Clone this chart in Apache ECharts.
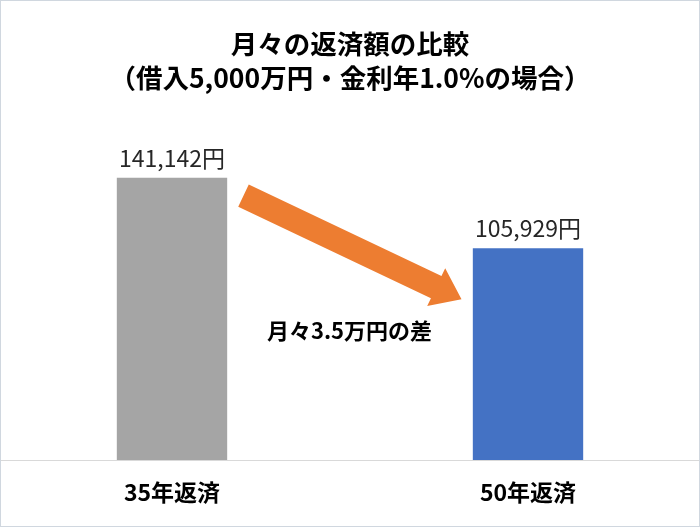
<!DOCTYPE html>
<html><head><meta charset="utf-8">
<script src="https://cdn.jsdelivr.net/npm/echarts@6/dist/echarts.min.js"></script>
<style>
html,body{margin:0;padding:0;background:#fff;overflow:hidden;width:700px;height:527px}
#c{position:absolute;left:-6px;top:0;width:712px;height:527px}
#frame{position:absolute;left:0;top:0;width:698px;height:525px;border:1px solid #D0D7DF;pointer-events:none}
</style>
</head><body><div id="c"></div><div id="frame"></div>
<script>
const categories = ['35年返済', '50年返済'];
const values = [141142, 105929];
const barColors = ['#A5A5A5', '#4472C4'];
const titleLines = ['月々の返済額の比較', '（借入5,000万円・金利年1.0%の場合）'];
const noteText = '月々3.5万円の差';

const FONT = '"Noto Sans CJK JP", "Noto Sans", sans-serif';
const chart = echarts.init(document.getElementById('c'), null, {renderer: 'canvas'});

chart.setOption({
  animation: false,
  backgroundColor: '#fff',
  title: {
    text: titleLines.join('\n'),
    left: 'center', top: 22,
    textStyle: {fontFamily: FONT, fontSize: 26.5, fontWeight: 'bold', color: '#000', lineHeight: 34}
  },
  grid: {left: 0, right: 0, top: 140, bottom: 67},
  xAxis: {
    type: 'category', data: categories,
    axisLine: {lineStyle: {color: '#D9D9D9', width: 1}},
    axisTick: {show: false},
    axisLabel: {fontFamily: FONT, fontSize: 23, fontWeight: 'bold', color: '#000', margin: 21}
  },
  yAxis: {type: 'value', min: 0, max: 160000, show: false, splitLine: {show: false}},
  series: [{
    type: 'bar', barWidth: '31%',
    data: values.map((v, i) => ({value: v, itemStyle: {color: barColors[i]}})),
    label: {
      show: true, position: 'top', distance: 8,
      fontFamily: FONT, fontSize: 23, color: '#262626',
      formatter: p => p.value.toLocaleString('en-US') + '円'
    }
  }]
});

// Arrow annotation anchored to the bars
const a = chart.convertToPixel({seriesIndex: 0}, [0, values[0]]);
const b = chart.convertToPixel({seriesIndex: 0}, [1, values[1]]);
const start = [a[0] + 71.5, a[1] + 18];
const tip = [b[0] - 66.5, b[1] + 51];
const dx = tip[0] - start[0], dy = tip[1] - start[1];
const len = Math.hypot(dx, dy);
const ux = dx / len, uy = dy / len, nx = -uy, ny = ux;
const shaftHalf = 12.3, headHalf = 21, headLen = 28;
const base = [tip[0] - ux * headLen, tip[1] - uy * headLen];
const P = (p, s) => [p[0] + nx * s, p[1] + ny * s];
const pts = [P(start, -shaftHalf), P(base, -shaftHalf), P(base, -headHalf), tip, P(base, headHalf), P(base, shaftHalf), P(start, shaftHalf)];

chart.setOption({
  graphic: [
    {type: 'polygon', shape: {points: pts}, style: {fill: '#ED7D31'}, z: 10},
    {type: 'text', x: (a[0] + b[0]) / 2 - 0.5, y: tip[1] + 31,
     style: {text: noteText, fontFamily: FONT, fontSize: 22, fontWeight: 'bold', fill: '#000', align: 'center', verticalAlign: 'middle'}, z: 10}
  ]
});
</script>
</body></html>
